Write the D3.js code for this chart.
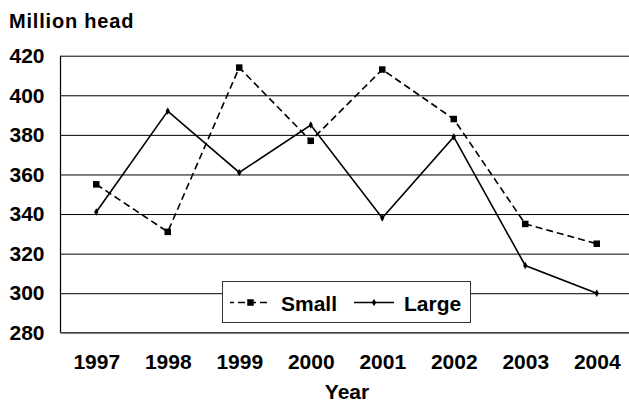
<!DOCTYPE html>
<html>
<head>
<meta charset="utf-8">
<script src="https://cdn.jsdelivr.net/npm/d3@7"></script>
<style>
  html, body { margin: 0; padding: 0; background: #fff; }
  svg { display: block; }
  text { font-family: "Liberation Sans", Arial, sans-serif; font-weight: bold; fill: #000; }
</style>
</head>
<body>
<svg id="chart" width="629" height="404"></svg>
<script>
// ---- data ----
const years = ["1997", "1998", "1999", "2000", "2001", "2002", "2003", "2004"];
const smallValues = [355, 331, 414, 377, 413, 388, 335, 325];
const largeValues = [341, 392, 361, 385, 338, 379, 314, 300];
const yTicks = [280, 300, 320, 340, 360, 380, 400, 420];
const seriesNames = ["Small", "Large"];
const yTitle = "Million head";
const xTitle = "Year";

(function () {
// ---- layout ----
const W = 629, H = 404;
const pL = 60.5, pR = 632.5, pT = 55.7, pB = 332.8;

const svg = d3.select("#chart");

const x = d3.scalePoint().domain(years).range([pL, pR]).padding(0.5);
const y = d3.scaleLinear().domain([280, 420]).range([pB, pT]);

// gridlines + y labels
const yAxis = d3.axisLeft(y).tickValues(yTicks).tickSize(-(pR - pL)).tickPadding(16).tickFormat(d3.format("d"));
const gy = svg.append("g").attr("transform", `translate(${pL},0)`).call(yAxis);
gy.select(".domain").remove();
gy.selectAll(".tick line").attr("stroke", "#000").attr("stroke-width", 1)
  .attr("display", d => d === 280 ? "none" : null);
gy.selectAll(".tick text").style("font-size", "21px").attr("fill", "#000");

// axis lines
svg.append("line").attr("x1", pL).attr("x2", pL).attr("y1", pT).attr("y2", pB)
  .attr("stroke", "#000").attr("stroke-width", 1.2);
svg.append("line").attr("x1", pL).attr("x2", W).attr("y1", pB).attr("y2", pB)
  .attr("stroke", "#000").attr("stroke-width", 1.2);

// x labels
const xAxis = d3.axisBottom(x).tickSize(0).tickPadding(21.6);
const gx = svg.append("g").attr("transform", `translate(0,${pB})`).call(xAxis);
gx.select(".domain").remove();
gx.selectAll(".tick text").style("font-size", "21px").attr("fill", "#000");

// titles
svg.append("text").attr("x", 9).attr("y", 28.3).style("font-size", "20px")
  .style("letter-spacing", "0.8px").text(yTitle);
svg.append("text").attr("x", 347).attr("y", 399.3).attr("text-anchor", "middle")
  .style("font-size", "21px").text(xTitle);

// lines
const line = d3.line().x((d, i) => x(years[i])).y(d => y(d));

svg.append("path").datum(smallValues).attr("d", line)
  .attr("fill", "none").attr("stroke", "#000").attr("stroke-width", 1.6).attr("stroke-dasharray", "7,4");
svg.append("path").datum(largeValues).attr("d", line)
  .attr("fill", "none").attr("stroke", "#000").attr("stroke-width", 1.6);

// markers
svg.selectAll(".msmall").data(smallValues).enter().append("rect")
  .attr("x", (d, i) => x(years[i]) - 3.25).attr("y", d => y(d) - 3.25)
  .attr("width", 6.5).attr("height", 6.5).attr("fill", "#000");
const diamond = d3.symbol().type(d3.symbolDiamond).size(16);
svg.selectAll(".mlarge").data(largeValues).enter().append("path")
  .attr("d", diamond).attr("transform", (d, i) => `translate(${x(years[i])},${y(d)})`).attr("fill", "#000");

// legend
const lg = svg.append("g");
lg.append("rect").attr("x", 222.5).attr("y", 281.5).attr("width", 248).attr("height", 41)
  .attr("fill", "#fff").attr("stroke", "#333").attr("stroke-width", 1);
const ly = 302.5;
lg.append("line").attr("x1", 230).attr("x2", 271).attr("y1", ly).attr("y2", ly)
  .attr("stroke", "#000").attr("stroke-width", 1.6).attr("stroke-dasharray", "7,4").attr("stroke-dashoffset", 3);
lg.append("rect").attr("x", 247.25).attr("y", ly - 3.25).attr("width", 6.5).attr("height", 6.5).attr("fill", "#000");
lg.append("text").attr("x", 281).attr("y", 310.5).style("font-size", "21px").text(seriesNames[0]);
lg.append("line").attr("x1", 354).attr("x2", 394).attr("y1", ly).attr("y2", ly)
  .attr("stroke", "#000").attr("stroke-width", 1.6);
lg.append("path").attr("d", diamond).attr("transform", `translate(374,${ly})`).attr("fill", "#000");
lg.append("text").attr("x", 404).attr("y", 310.5).style("font-size", "21px").text(seriesNames[1]);
})();
</script>
</body>
</html>
